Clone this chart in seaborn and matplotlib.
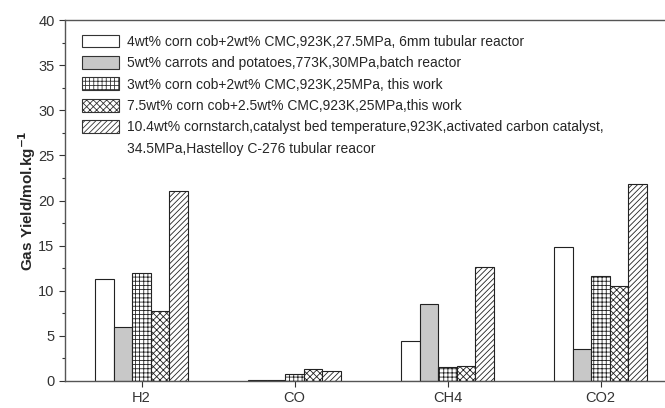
import numpy as np
import pandas as pd
import seaborn as sns
from matplotlib import pyplot as plt
from matplotlib.patches import Patch
from matplotlib.ticker import MultipleLocator

# gas species on the x axis
gases = ['H2', 'CO', 'CH4', 'CO2']

# legend labels for each feedstock / condition
conditions = [
    '4wt% corn cob+2wt% CMC,923K,27.5MPa, 6mm tubular reactor',
    '5wt% carrots and potatoes,773K,30MPa,batch reactor',
    '3wt% corn cob+2wt% CMC,923K,25MPa, this work',
    '7.5wt% corn cob+2.5wt% CMC,923K,25MPa,this work',
    '10.4wt% cornstarch,catalyst bed temperature,923K,activated carbon catalyst,',
]
extra_line = '34.5MPa,Hastelloy C-276 tubular reacor'

# yields, one list per condition (H2, CO, CH4, CO2)
corn_cob_4 = [11.3, 0.15, 4.4, 14.9]
carrots = [6.0, 0.1, 8.5, 3.5]
corn_cob_3 = [12.0, 0.8, 1.6, 11.6]
corn_cob_75 = [7.8, 1.3, 1.7, 10.5]
cornstarch = [21.1, 1.1, 12.6, 21.8]

series = [corn_cob_4, carrots, corn_cob_3, corn_cob_75, cornstarch]

# looks of each series
faces = ['white', '#c8c8c8', 'white', 'white', 'white']
hatches = ['', '', '++++', 'xxxxx', '//////']

# long form table for seaborn
rows = []
for cond, vals in zip(conditions, series):
    for gas, v in zip(gases, vals):
        rows.append({'gas': gas, 'condition': cond, 'yield': v})
df = pd.DataFrame(rows)

sns.set_style('ticks')
plt.rcParams['font.family'] = ['Liberation Sans', 'DejaVu Sans']
plt.rcParams['hatch.linewidth'] = 0.6

fig = plt.figure(figsize=(6.65, 4.08), dpi=100)
ax = fig.add_axes([65 / 665, 27 / 408, 612 / 665, 361 / 408])

sns.barplot(data=df, x='gas', y='yield', hue='condition', hue_order=conditions,
            order=gases, width=0.605, gap=0, ax=ax, errorbar=None, legend=False)

# apply fills and hatches bar by bar
for cont, fc, h in zip(ax.containers, faces, hatches):
    for bar in cont:
        bar.set_facecolor(fc)
        bar.set_edgecolor('#222222')
        bar.set_linewidth(0.8)
        bar.set_hatch(h)

# legend built from the same styles
handles = [Patch(facecolor=fc, edgecolor='#333333', hatch=h, linewidth=0.8)
           for fc, h in zip(faces, hatches)]
handles.append(Patch(facecolor='none', edgecolor='none'))
ax.legend(handles, conditions + [extra_line], loc='upper left',
          bbox_to_anchor=(0.019, 0.975), frameon=False, fontsize=10,
          handlelength=2.65, handleheight=1.05, handletextpad=0.55,
          labelspacing=0.52, borderaxespad=0)

ax.set_xlim(-0.5, 3.5)
ax.set_ylim(0, 40)
ax.yaxis.set_major_locator(MultipleLocator(5))
ax.yaxis.set_minor_locator(MultipleLocator(2.5))
ax.tick_params(axis='both', which='major', length=4, width=0.8, labelsize=10.5,
               colors='#333333')
ax.tick_params(axis='y', which='minor', length=2.5, width=0.8, colors='#333333')
ax.set_xlabel('')
ax.set_ylabel('Gas Yield/mol.kg$^{\\mathbf{-1}}$', fontsize=11, fontweight='bold',
              labelpad=0)

for side in ['left', 'bottom', 'top', 'right']:
    ax.spines[side].set_visible(True)
    ax.spines[side].set_color('#555555')
    ax.spines[side].set_linewidth(1.0)

fig.savefig('out.png', dpi=100)
